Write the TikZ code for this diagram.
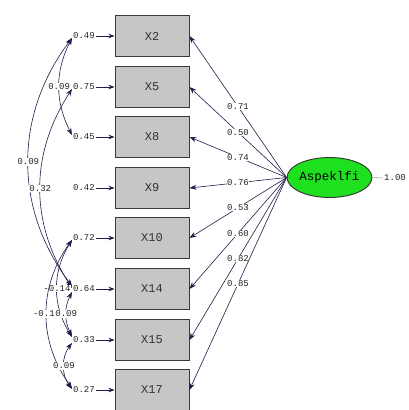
\documentclass[tikz,border=0pt]{standalone}
\usepackage{fontspec}
\setmonofont{Liberation Mono}
\usetikzlibrary{arrows.meta,shapes.geometric}
\definecolor{ink}{HTML}{1E1E4A}
\definecolor{boxfill}{HTML}{C6C6C6}
\definecolor{boxline}{HTML}{3A3A3A}
\definecolor{latfill}{HTML}{1EE01E}
\definecolor{tick}{HTML}{9A9A9A}
\tikzset{
  obs/.style={draw=boxline, line width=0.9pt, fill=boxfill, minimum width=74pt, minimum height=41pt,
              inner sep=0pt, font=\fontsize{12}{12}\selectfont\ttfamily, text=black!80},
  latent/.style={draw=black!80, line width=0.9pt, ellipse, fill=latfill, minimum width=75pt,
                 minimum height=40pt, inner sep=0pt, font=\fontsize{12.5}{12.5}\selectfont\ttfamily},
  err/.style={font=\fontsize{9}{9}\selectfont\ttfamily, inner sep=1pt, text=black!85},
  val/.style={fill=white, inner sep=0.6pt, font=\fontsize{9}{9}\selectfont\ttfamily, text=black!85},
  load/.style={-{Stealth[length=7pt,width=5pt]}, line width=0.6pt, draw=ink},
  errarr/.style={-{Stealth[length=6pt,width=4.5pt]}, line width=0.8pt, draw=ink},
  cov/.style={{Stealth[length=7pt,width=5pt]}-{Stealth[length=7pt,width=5pt]}, line width=0.6pt, draw=ink},
}

\begin{document}
\begin{tikzpicture}[x=1pt,y=-1pt]
\useasboundingbox[fill=white] (0,0) rectangle (408,410);
% ---- observed variables and error variances ----
\foreach \v/\y/\e in {2/36/0.49, 5/87/0.75, 8/137/0.45, 9/188/0.42, 10/238/0.72, 14/289/0.64, 15/340/0.33, 17/390/0.27}{
  \node[obs] (x\v) at (152,\y) {X\v};
  \node[err] (e\v) at (84,\y) {\e};
  \draw[errarr] (e\v.east) -- (x\v.west);
}
% ---- latent variable ----
\node[latent] (asp) at (329.5,177.5) {Aspeklfi};
\node[err, anchor=west] (av) at (383,178) {1.00};
\draw[tick, line width=0.5pt] (asp.east) -- (av.west);
% ---- loadings ----
\foreach \v/\l in {2/0.71, 5/0.50, 8/0.74, 9/0.76, 10/0.53, 14/0.60, 15/0.82, 17/0.85}{
  \draw[load] (asp.west) -- node[val]{\l} (x\v.east);
}
% ---- error covariances ----
\draw[cov] ([yshift=-2pt]e2.west) to[bend right=27] node[val]{0.09} ([yshift=2pt]e8.west);
\draw[cov] ([yshift=-2pt]e2.west) to[bend right=37] node[val]{0.09} ([yshift=3pt]e14.west);
\draw[cov] ([yshift=-2pt]e5.west) to[bend right=33] node[val]{0.32} ([yshift=1pt]e14.west);
\draw[cov] ([yshift=-2pt]e10.west) to[bend right=32] node[val]{-0.14} ([yshift=3pt]e15.west);
\draw[cov] ([yshift=-2pt]e10.west) to[bend right=36] node[val]{-0.18} ([yshift=2pt]e17.west);
\draw[cov] ([yshift=-3pt]e14.west) to[bend right=27] node[val]{0.09} ([yshift=4pt]e15.west);
\draw[cov] ([yshift=-3pt]e15.west) to[bend right=37] node[val]{0.09} ([yshift=1pt]e17.west);
\end{tikzpicture}
\end{document}
